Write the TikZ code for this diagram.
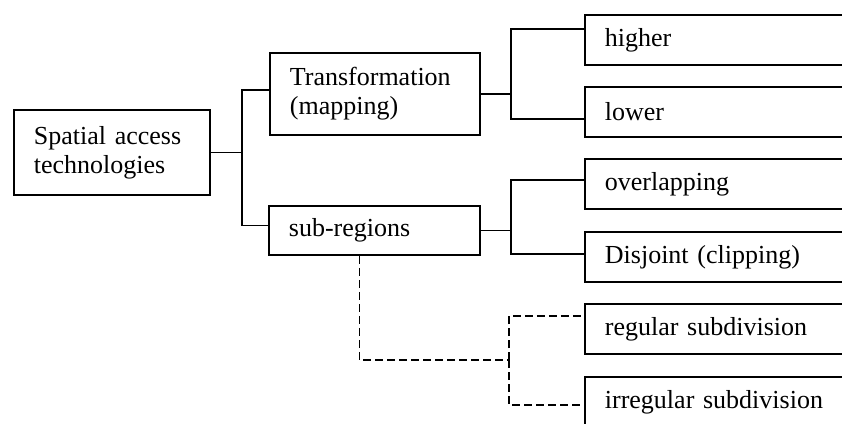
\documentclass[tikz,border=0pt]{standalone}
\usepackage{fontspec}
\setmainfont{Liberation Serif}
\usepackage{tikz}

\begin{document}
\begin{tikzpicture}[x=1pt, y=-1pt, line width=1.8pt,
	box/.style={draw, rectangle, anchor=north west, align=left, inner xsep=20pt,
		font=\fontsize{26}{29}\selectfont},
	leafbox/.style={box, minimum height=50pt, text width=246pt},
	dashes/.style={dash pattern=on 8pt off 4pt}]
	\useasboundingbox (0,0) rectangle (842,423);
	\clip (0,0) rectangle (842,423);

	\node [box, minimum height=85pt, text width=156pt] (root) at (13,109)
		{Spatial access\\technologies};
	\node [box, minimum height=82pt, text width=170pt] (trans) at (269,52)
		{Transformation\\(mapping)};
	\node [box, minimum height=49pt, text width=171pt] (sub) at (268,205)
		{sub-regions};

	\node [leafbox] (higher) at (584,14) {higher};
	\node [leafbox] (lower) at (584,86) {lower};
	\node [leafbox] (overlap) at (584,158) {overlapping};
	\node [leafbox] (disjoint) at (584,231) {Disjoint (clipping)};
	\node [leafbox] (regular) at (584,303) {regular subdivision};
	\node [leafbox] (irregular) at (584,376) {irregular subdivision};

	\draw (root.east) -- ++(31,0) coordinate (rootjoin);
	\draw (rootjoin) |- ([yshift=4pt]trans.west);
	\draw (rootjoin) |- ([yshift=5pt]sub.west);

	\draw (trans.east) -- ++(30,0) coordinate (transjoin);
	\draw (transjoin) |- ([yshift=11pt]higher.west);
	\draw (transjoin) |- ([yshift=-7pt]lower.west);

	\draw (sub.east) -- ++(30,0) coordinate (subjoin);
	\draw (subjoin) |- ([yshift=4pt]overlap.west);
	\draw (subjoin) |- ([yshift=3pt]disjoint.west);

	\coordinate (dashjoin) at (509,360);
	\draw [dashes] ([xshift=-15pt]sub.south) |- (dashjoin);
	\draw [dashes] (dashjoin) |- ([yshift=13pt]regular.west);
	\draw [dashes] (dashjoin) |- ([yshift=-3pt]irregular.west);
\end{tikzpicture}
\end{document}
